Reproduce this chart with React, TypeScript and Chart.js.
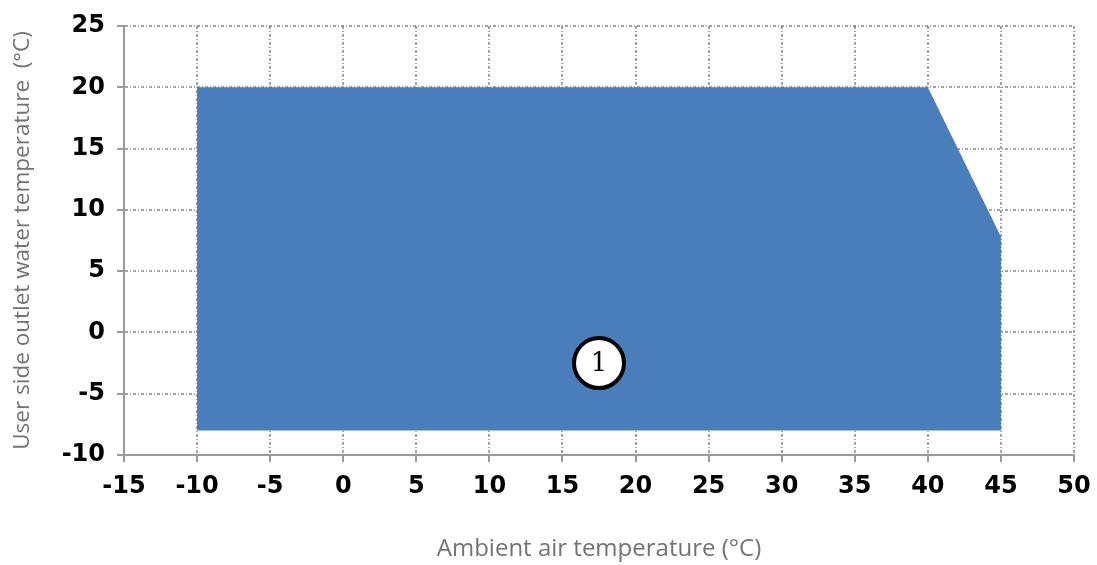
import React, { useEffect, useRef } from 'react';
import { Chart, registerables } from 'chart.js';

Chart.register(...registerables);

// Operating envelope: upper boundary (x, y) and floor value
const envelopeX = [-10, 40, 45];
const envelopeY = [20, 20, 7.8];
const envelopeFloor = -8;

// Zone markers
const zoneLabels = ['1'];
const zoneX = [17.5];
const zoneY = [-2.5];

// Axes
const xMin = -15;
const xMax = 50;
const yMin = -10;
const yMax = 25;
const tickStep = 5;
const xTitle = 'Ambient air temperature (°C)';
const yTitle = 'User side outlet water temperature  (°C)';

const zoneMarkerPlugin = {
  id: 'zoneMarkers',
  afterDraw(chart: any) {
    const { ctx, scales } = chart;
    const xs = scales.x;
    const ys = scales.y;
    ctx.save();
    zoneLabels.forEach((label, i) => {
      const px = xs.getPixelForValue(zoneX[i]);
      const py = ys.getPixelForValue(zoneY[i]);
      ctx.beginPath();
      ctx.arc(px, py, 25, 0, Math.PI * 2);
      ctx.fillStyle = '#ffffff';
      ctx.fill();
      ctx.lineWidth = 4;
      ctx.strokeStyle = '#000000';
      ctx.stroke();
      ctx.fillStyle = '#000000';
      ctx.font = '26px "DejaVu Serif"';
      ctx.textAlign = 'center';
      ctx.textBaseline = 'middle';
      ctx.fillText(label, px, py + 1);
    });
    ctx.restore();
  },
};

export default function App() {
  const canvasRef = useRef<HTMLCanvasElement | null>(null);

  useEffect(() => {
    document.body.style.margin = '0';
    document.body.style.background = '#ffffff';
    const canvas = canvasRef.current;
    if (!canvas) return;

    const tickFont = { family: '"DejaVu Sans"', size: 24, weight: 'bold' as const };
    const gridCommon = {
      color: 'rgba(90,90,90,0.55)',
      lineWidth: 2,
      tickLength: 7,
      tickColor: '#9a9a9a',
      tickWidth: 2,
      tickBorderDash: [],
    };
    const borderCommon = { display: true, color: '#9a9a9a', width: 2, dash: [3, 2, 1, 2] };

    const chart = new Chart(canvas, {
      type: 'scatter',
      data: {
        datasets: [
          {
            data: envelopeX.map((x, i) => ({ x, y: envelopeY[i] })),
            showLine: true,
            pointRadius: 0,
            borderWidth: 0,
            borderColor: 'rgba(0,0,0,0)',
            backgroundColor: '#4a7ebb',
            fill: { value: envelopeFloor },
          } as any,
        ],
      },
      options: {
        animation: false,
        responsive: false,
        layout: { padding: { top: 26, right: 23, left: 0, bottom: 0 } },
        plugins: {
          legend: { display: false },
          tooltip: { enabled: false },
        },
        scales: {
          x: {
            type: 'linear',
            min: xMin,
            max: xMax,
            z: 1,
            ticks: { stepSize: tickStep, font: tickFont, color: '#000000', padding: 10, maxRotation: 0 },
            grid: gridCommon,
            border: borderCommon,
            title: {
              display: true,
              text: xTitle,
              font: { family: '"Open Sans"', size: 24, weight: 'normal' },
              color: '#737373',
              padding: { top: 0, bottom: 1 },
            },
            afterFit: (scale: any) => {
              scale.height = 110;
              scale.paddingRight = 0;
              scale.paddingLeft = 0;
            },
          },
          y: {
            type: 'linear',
            min: yMin,
            max: yMax,
            z: 1,
            ticks: { stepSize: tickStep, font: tickFont, color: '#000000', padding: 12 },
            grid: gridCommon,
            border: borderCommon,
            title: {
              display: true,
              text: yTitle,
              font: { family: '"Open Sans"', size: 22.5, weight: 'normal' },
              color: '#737373',
              padding: { top: 9, bottom: 0 },
            },
            afterFit: (scale: any) => {
              scale.width = 124;
              scale.paddingTop = 0;
              scale.paddingBottom = 0;
            },
          },
        },
      } as any,
      plugins: [zoneMarkerPlugin],
    });

    return () => {
      chart.destroy();
    };
  }, []);

  return (
    <div style={{ width: 1097, height: 565 }}>
      <canvas ref={canvasRef} width={1097} height={565} style={{ display: 'block' }} />
    </div>
  );
}
